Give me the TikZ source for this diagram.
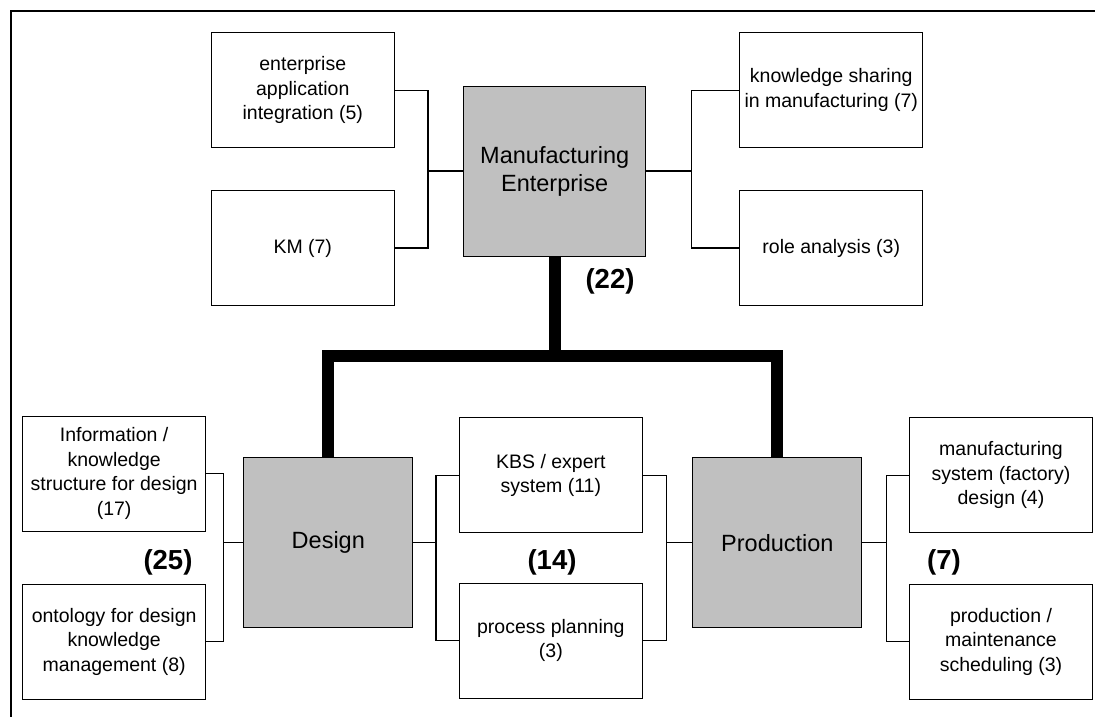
\documentclass[tikz,border=0pt]{standalone}
\usepackage{fontspec}
\setmainfont{Liberation Sans}
\definecolor{boxgray}{RGB}{192,192,192}
\tikzset{
  leaf/.style={draw=black, line width=1pt, fill=white, minimum width=183pt, minimum height=115pt,
    inner sep=0pt, align=center, font=\fontsize{19.5}{24.5}\selectfont},
  hub/.style={draw=black, line width=1pt, fill=boxgray, minimum height=170pt,
    inner sep=0pt, align=center, font=\fontsize{23.5}{28}\selectfont},
  link/.style={draw=black, line width=1.1pt},
  bus/.style={draw=black, line width=12pt, line join=miter},
  count/.style={inner sep=0pt, font=\fontsize{27.5}{30}\selectfont\bfseries},
  frame/.style={draw=black, line width=2pt}
}
\begin{document}
\begin{tikzpicture}[x=1pt, y=-1pt]
\useasboundingbox (0,0) rectangle (1095,716);
\fill[white] (0,0) rectangle (1095,716);
\draw[frame] (11,717) -- (11,11) -- (1096,11);

% top level
\node[leaf] (ea) at (302.75,90.2) {enterprise\\application\\integration (5)};
\node[leaf] (km) at (302.75,248) {KM (7)};
\node[hub, minimum width=182pt] (me) at (554.7,171) {Manufacturing\\Enterprise};
\node[leaf] (ks) at (831.25,90.2) {knowledge sharing\\in manufacturing (7)};
\node[leaf] (ra) at (831.25,248) {role analysis (3)};

% bottom level
\node[leaf] (info) at (114.15,473.5) {Information /\\knowledge\\structure for design\\(17)};
\node[leaf] (onto) at (114.15,641.8) {ontology for design\\knowledge\\management (8)};
\node[hub, minimum width=169pt] (design) at (328.3,542.7) {Design};
\node[leaf] (kbs) at (550.85,475.2) {KBS / expert\\system (11)};
\node[leaf] (pp) at (550.85,640.5) {process planning\\(3)};
\node[hub, minimum width=169pt] (prod) at (777.4,542.7) {Production};
\node[leaf] (mfg) at (1001,475.2) {manufacturing\\system (factory)\\design (4)};
\node[leaf] (pm) at (1001,641.5) {production /\\maintenance\\scheduling (3)};

% counts
\node[count] (c22) at (610,281) {(22)};
\node[count] (c25) at (168,562) {(25)};
\node[count] (c14) at (552,562) {(14)};
\node[count] (c7) at (944,562) {(7)};

% junctions
\coordinate (j1) at (428,171);
\coordinate (j2) at (691.3,171);
\coordinate (j3) at (223.8,542.7);
\coordinate (j4) at (436,542.7);
\coordinate (j5) at (666.7,542.7);
\coordinate (j6) at (886.3,542.7);
\coordinate (hub) at (554.7,355.5);

\draw[link] (ea.east) -| (j1) |- (km.east);
\draw[link] (j1) -- (me.west);
\draw[link] (ks.west) -| (j2) |- (ra.west);
\draw[link] (j2) -- (me.east);
\draw[link] (info.east) -| (j3) |- (onto.east);
\draw[link] (j3) -- (design.west);
\draw[link] (kbs.west) -| (j4) |- (pp.west);
\draw[link] (j4) -- (design.east);
\draw[link] (kbs.east) -| (j5) |- (pp.east);
\draw[link] (j5) -- (prod.west);
\draw[link] (mfg.west) -| (j6) |- (pm.west);
\draw[link] (j6) -- (prod.east);

% thick bus
\draw[bus] (me.south) -- (hub);
\draw[bus] (design.north) |- (hub) -| (prod.north);
\end{tikzpicture}
\end{document}
